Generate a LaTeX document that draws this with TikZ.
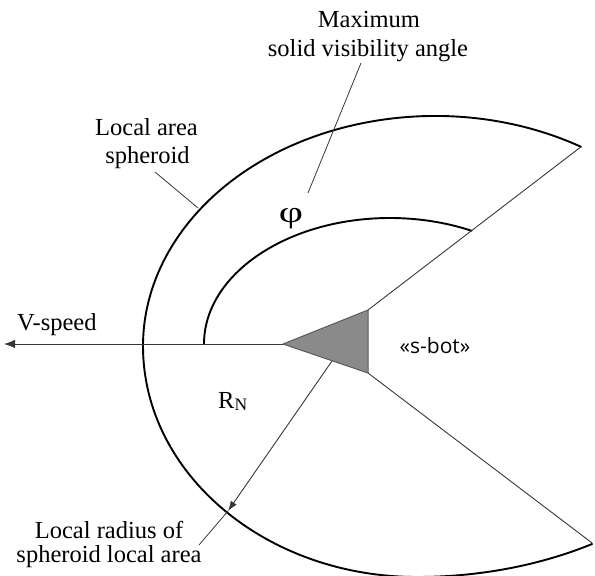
\documentclass[tikz,border=0pt]{standalone}
\usepackage{fontspec}
\setmainfont{Liberation Serif}
\newfontfamily\botfont{Open Sans}
\usetikzlibrary{arrows.meta}
\definecolor{trifill}{RGB}{138,138,138}
\definecolor{triedge}{RGB}{90,90,90}
\definecolor{linegray}{RGB}{55,55,55}
\begin{document}
\begin{tikzpicture}[x=1pt,y=-1pt,
  thickarc/.style={line width=1.9pt, draw=black, line cap=round, line join=round},
  thinline/.style={line width=0.9pt, draw=linegray},
  leader/.style={line width=0.8pt, draw=linegray},
  lbl/.style={font=\fontsize{24.5}{24.5}\selectfont, text=black, inner sep=0pt, anchor=base},
]
\useasboundingbox (0,0) rectangle (595,576);
% key points
\coordinate (T1) at (283,344);
\coordinate (T2) at (368,310);
\coordinate (T3) at (368,373);
\coordinate (Otop) at (581,146.8);
\coordinate (Obot) at (592.1,543);
\coordinate (Ileft) at (204,344);
\coordinate (Vtip) at (4,344);
\coordinate (Rstart) at (332,361);
\coordinate (Rend) at (228,511);
\coordinate (RlblEnd) at (199,545);
\coordinate (SphA) at (155,172);
\coordinate (SphB) at (198,208);
\coordinate (PhiA) at (361,63);
\coordinate (PhiB) at (308,193);
% outer spheroid
\draw[thickarc] (Otop) arc[start angle=-60, end angle=-180, x radius=292, y radius=230]
  arc[start angle=180, end angle=90, x radius=274, y radius=231]
  arc[start angle=90, end angle=59, x radius=340, y radius=231];
% inner arc
\draw[thickarc] (Ileft) arc[start angle=180, end angle=296, x radius=186, y radius=126];
% visibility cone edges
\draw[thinline] (T2) -- (Otop);
\draw[thinline] (T3) -- (Obot);
% speed arrow
\draw[thinline, -{Latex[length=11pt,width=8.5pt]}] (T1) -- (Vtip);
% radius arrow and leader
\draw[thinline, -{Latex[length=10pt,width=7pt]}] (Rstart) -- (Rend);
\draw[leader] (Rend) -- (RlblEnd);
% leaders
\draw[leader] (SphA) -- (SphB);
\draw[leader] (PhiA) -- (PhiB);
% s-bot triangle
\filldraw[fill=trifill, draw=triedge, line width=1pt, line join=round] (T1) -- (T2) -- (T3) -- cycle;
% labels
\node[lbl] (max1) at (369,27) {Maximum};
\node[lbl] (max2) at (368,56) {solid visibility angle};
\node[font=\fontsize{30}{30}\selectfont, inner sep=0pt, text=black] (phi) at (291,218.5) {\scalebox{1.4}[1]{φ}};
\node[lbl] (loc1) at (146.5,135) {Local area};
\node[lbl] (loc2) at (147.5,163) {spheroid};
\node[lbl, anchor=base west] (vs) at (17,330) {V-speed};
\node[lbl, anchor=base west] (rn) at (218,408) {R\raisebox{-2pt}{\fontsize{17.5}{17.5}\selectfont N}};
\node[font=\botfont\fontsize{21}{21}\selectfont, text=black, inner sep=0pt, anchor=base] (bot) at (435,353) {«s-bot»};
\node[lbl] (rad1) at (109,538) {Local radius of};
\node[lbl] (rad2) at (109,562) {spheroid local area};
\end{tikzpicture}
\end{document}
